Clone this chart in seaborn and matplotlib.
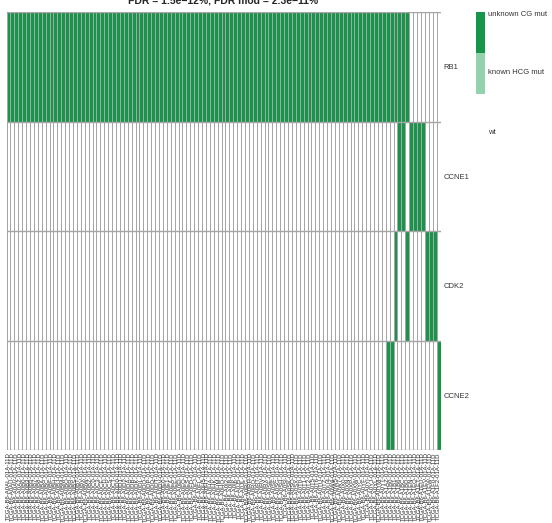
import numpy as np
import pandas as pd
import matplotlib
matplotlib.use("Agg")
import matplotlib.pyplot as plt
from matplotlib.colors import ListedColormap
from matplotlib.patches import Rectangle
import seaborn as sns

# ---------------------------------------------------
# data : mutation status per gene (1 = unknown CG mut, 0 = wt)
# ---------------------------------------------------
genes = ["RB1", "CCNE1", "CDK2", "CCNE2"]

rb1_status = (
    "1111111111" "1111111111" "1111111111" "1111111111" "1111111111"
    "1111111111" "1111111111" "1111111111" "1111111111" "1111111111"
    "111" "00000000"
)
ccne1_status = (
    "0000000000" "0000000000" "0000000000" "0000000000" "0000000000"
    "0000000000" "0000000000" "0000000000" "0000000000" "0000000000"
    "11" "0" "1111" "0000"
)
cdk2_status = (
    "0000000000" "0000000000" "0000000000" "0000000000" "0000000000"
    "0000000000" "0000000000" "0000000000" "0000000000"
    "000000000" "1" "00" "1" "0000" "111" "0"
)
ccne2_status = (
    "0000000000" "0000000000" "0000000000" "0000000000" "0000000000"
    "0000000000" "0000000000" "0000000000" "0000000000"
    "0000000" "11" "00000000000" "1"
)

sample_codes = """
A0AL A0AU A0AV A0AZ A0B0 A0B3 A0B5 A0B7 A0B8 A0BA
A0BC A0BF A0BH A0BJ A0BM A0BO A0BR A0BS A0BT A0BV
A0BW A0BZ A0C0 A0C3 A0CE A0CH A0CS A0CT A0D0 A0D1
A0D2 A0DA A0DB A0DK A0DL A0DO A0DP A0DQ A0DT A0DV
A0E0 A0E1 A0EA A0EE A0EI A0EQ A0ES A0FD A0FJ A0FL
A0H5 A0H7 A0HA A0HK A0HM A0HO A0I2 A0I8 A0IK A0J5
A0JL A0RG A0RH A0RO A0RT A0RV A0RX A0SE A0SF A0SG
A0SH A0SI A0SK A0SO A0SX A0T0 A0T1 A0T2 A0T5 A0T6
A0TU A0TZ A0U4 A0W4 A0W5 A0W7 A0X0 A0XN A0XP A0XW
A0YC A0YF A0YI A0YJ A0YL A0YM A0YT A1AZ A1B0 A1B1
A1B6 A1BC A1BD A1EN A1EO A1ET A1EU A1EV A1EW A1F0
A1F2
""".split()
samples = ["TCGA-B6-" + c + "-01A-11D" for c in sample_codes]

legend_labels = ["unknown CG mut", "known HCG mut", "wt"]
legend_colors = ["#16964a", "#92d2ad", "#ffffff"]

title = "FDR = 1.5e\u221212%, FDR mod = 2.3e\u221211%"

rows = [rb1_status, ccne1_status, cdk2_status, ccne2_status]
mat = pd.DataFrame([[int(ch) for ch in r] for r in rows], index=genes, columns=samples)

# ---------------------------------------------------
# figure
# ---------------------------------------------------
sns.set_theme(style="white")
plt.rcParams["font.family"] = ["Liberation Sans", "DejaVu Sans"]

W, H = 552, 523
fig = plt.figure(figsize=(W / 100, H / 100), dpi=100)
ax = fig.add_axes([6.5 / W, 1 - 450 / H, 434 / W, 438 / H])

sns.heatmap(mat, ax=ax, cmap=ListedColormap(["#ffffff", legend_colors[0]]),
            vmin=0, vmax=1, cbar=False, linewidths=0, linecolor="none",
            xticklabels=True, yticklabels=True)
mesh = ax.collections[0]
mesh.set_edgecolor("face")
mesh.set_linewidth(0)

# cell borders: one Line2D per line, snapped to whole pixels
n_rows, n_cols = mat.shape
for xi in range(n_cols + 1):
    ax.plot([xi, xi], [0, n_rows], color="#a6a6a6", lw=0.72, snap=True,
            solid_capstyle="butt")
for yi in range(n_rows + 1):
    ax.plot([0, n_cols], [yi, yi], color="#a6a6a6", lw=1.0, snap=True,
            solid_capstyle="butt")

ax.yaxis.tick_right()
ax.tick_params(axis="y", length=0, pad=2, labelsize=5.5, labelrotation=0)
ax.tick_params(axis="x", length=0, pad=1.5, labelsize=4.3, labelrotation=90)
for lab in ax.get_yticklabels():
    lab.set_color("#333333")
ax.set_xlabel("")
ax.set_ylabel("")

# title (partly cut at top, as in the original)
fig.text(223 / W, 1 - 0.5 / H, title, ha="center", va="center",
         fontsize=7.5, fontweight="bold")

# legend
y0 = 12
seg = 41
for i, (lab, col) in enumerate(zip(legend_labels, legend_colors)):
    fig.patches.append(Rectangle((476 / W, 1 - (y0 + seg * (i + 1)) / H), 9 / W, seg / H,
                                 transform=fig.transFigure, facecolor=col,
                                 edgecolor="none"))
fig.text(488 / W, 1 - 14 / H, legend_labels[0], fontsize=5.5, va="center", color="#333333")
fig.text(488 / W, 1 - 73 / H, legend_labels[1], fontsize=5.5, va="center", color="#333333")
fig.text(488 / W, 1 - 133 / H, legend_labels[2], fontsize=5.5, va="center", color="#333333")

fig.savefig("out.png", dpi=100)
